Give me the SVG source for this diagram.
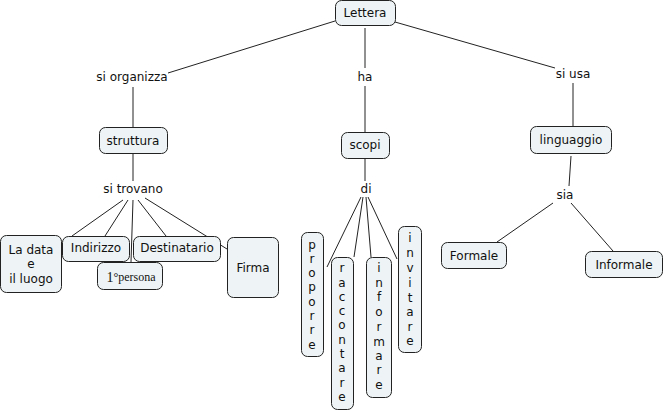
<svg xmlns="http://www.w3.org/2000/svg" width="666" height="412" viewBox="0 0 666 412">
<style>
.bg{fill:#ffffff}
.n rect{fill:#eef4f5;stroke:#222;stroke-width:1}
text{font-family:"DejaVu Sans",Verdana,sans-serif;font-size:12px;fill:#111;text-anchor:middle;dominant-baseline:central}
.e line{stroke:#222;stroke-width:1}
.serif{font-family:"Liberation Serif","Times New Roman",serif}
</style>
<rect class="bg" width="666" height="412"/>
<g class="e">
<line x1="335" y1="21" x2="168" y2="73"/>
<line x1="365" y1="28" x2="365" y2="68"/>
<line x1="395" y1="22" x2="555" y2="68"/>
<line x1="133" y1="87" x2="133" y2="128"/>
<line x1="365" y1="86" x2="365" y2="132"/>
<line x1="573" y1="83" x2="573" y2="126"/>
<line x1="133" y1="154" x2="133" y2="181"/>
<line x1="365" y1="159" x2="365" y2="181"/>
<line x1="571" y1="156" x2="569" y2="186"/>
<line x1="553" y1="203" x2="497" y2="242"/>
<line x1="571" y1="203" x2="613" y2="251"/>
<line x1="123" y1="200" x2="72" y2="236"/>
<line x1="128" y1="200" x2="105" y2="236"/>
<line x1="133" y1="200" x2="131" y2="262"/>
<line x1="138" y1="200" x2="166" y2="236"/>
<line x1="145" y1="198" x2="227" y2="249"/>
<line x1="361" y1="197" x2="327" y2="267"/>
<line x1="363" y1="197" x2="354" y2="257"/>
<line x1="366" y1="197" x2="371" y2="257"/>
<line x1="368" y1="197" x2="397" y2="259"/>
</g>
<g id="lettera" class="n"><rect x="335.5" y="0.5" width="60" height="25" rx="6"/><text x="365" y="13">Lettera</text></g>
<g id="si-organizza"><text x="132" y="77">si organizza</text></g>
<g id="ha"><text x="365" y="77">ha</text></g>
<g id="si-usa"><text x="573" y="74">si usa</text></g>
<g id="struttura" class="n"><rect x="99.5" y="127.5" width="68" height="26" rx="6"/><text x="133" y="141">struttura</text></g>
<g id="scopi" class="n"><rect x="341.5" y="132.5" width="48" height="26" rx="6"/><text x="365" y="145">scopi</text></g>
<g id="linguaggio" class="n"><rect x="530.5" y="126.5" width="81" height="27" rx="6"/><text x="571" y="140">linguaggio</text></g>
<g id="si-trovano"><text x="133" y="189">si trovano</text></g>
<g id="di"><text x="366" y="189">di</text></g>
<g id="sia"><text x="565" y="195">sia</text></g>
<g id="formale" class="n"><rect x="441.5" y="242.5" width="65" height="26" rx="6"/><text x="474" y="256">Formale</text></g>
<g id="informale" class="n"><rect x="585.5" y="251.5" width="77" height="26" rx="6"/><text x="624" y="265">Informale</text></g>
<g id="la-data" class="n"><rect x="0.5" y="235.5" width="61" height="57" rx="6"/><text x="31" y="250">La data</text><text x="31" y="264">e</text><text x="31" y="279">il luogo</text></g>
<g id="indirizzo" class="n"><rect x="62.5" y="236.5" width="67" height="25" rx="6"/><text x="96" y="248">Indirizzo</text></g>
<g id="destinatario" class="n"><rect x="133.5" y="236.5" width="87" height="25" rx="6"/><text x="177" y="248">Destinatario</text></g>
<g id="prima-persona" class="n"><rect x="97.5" y="262.5" width="65" height="27" rx="6"/><text x="131" y="277" class="serif"><tspan font-size="14">1</tspan><tspan font-size="12">°persona</tspan></text></g>
<g id="firma" class="n"><rect x="227.5" y="237.5" width="51" height="60" rx="6"/><text x="253" y="268">Firma</text></g>
<g id="proporre" class="n"><rect x="301.5" y="232.5" width="22" height="124" rx="6"/>
<text x="312" y="245">p</text><text x="312" y="259">r</text><text x="312" y="273">o</text><text x="312" y="287">p</text><text x="312" y="302">o</text><text x="312" y="316">r</text><text x="312" y="330">r</text><text x="312" y="345">e</text></g>
<g id="raccontare" class="n"><rect x="331.5" y="257.5" width="22" height="152" rx="6"/>
<text x="342" y="268">r</text><text x="342" y="283">a</text><text x="342" y="297">c</text><text x="342" y="311">c</text><text x="342" y="325">o</text><text x="342" y="340">n</text><text x="342" y="354">t</text><text x="342" y="368">a</text><text x="342" y="383">r</text><text x="342" y="397">e</text></g>
<g id="informare" class="n"><rect x="366.5" y="257.5" width="25" height="140" rx="6"/>
<text x="379" y="268">i</text><text x="379" y="283">n</text><text x="379" y="297">f</text><text x="379" y="312">o</text><text x="379" y="327">r</text><text x="379" y="342">m</text><text x="379" y="356">a</text><text x="379" y="370">r</text><text x="379" y="385">e</text></g>
<g id="invitare" class="n"><rect x="398.5" y="226.5" width="23" height="126" rx="6"/>
<text x="410" y="238">i</text><text x="410" y="253">n</text><text x="410" y="268">v</text><text x="410" y="283">i</text><text x="410" y="298">t</text><text x="410" y="312">a</text><text x="410" y="327">r</text><text x="410" y="341">e</text></g>
</svg>
